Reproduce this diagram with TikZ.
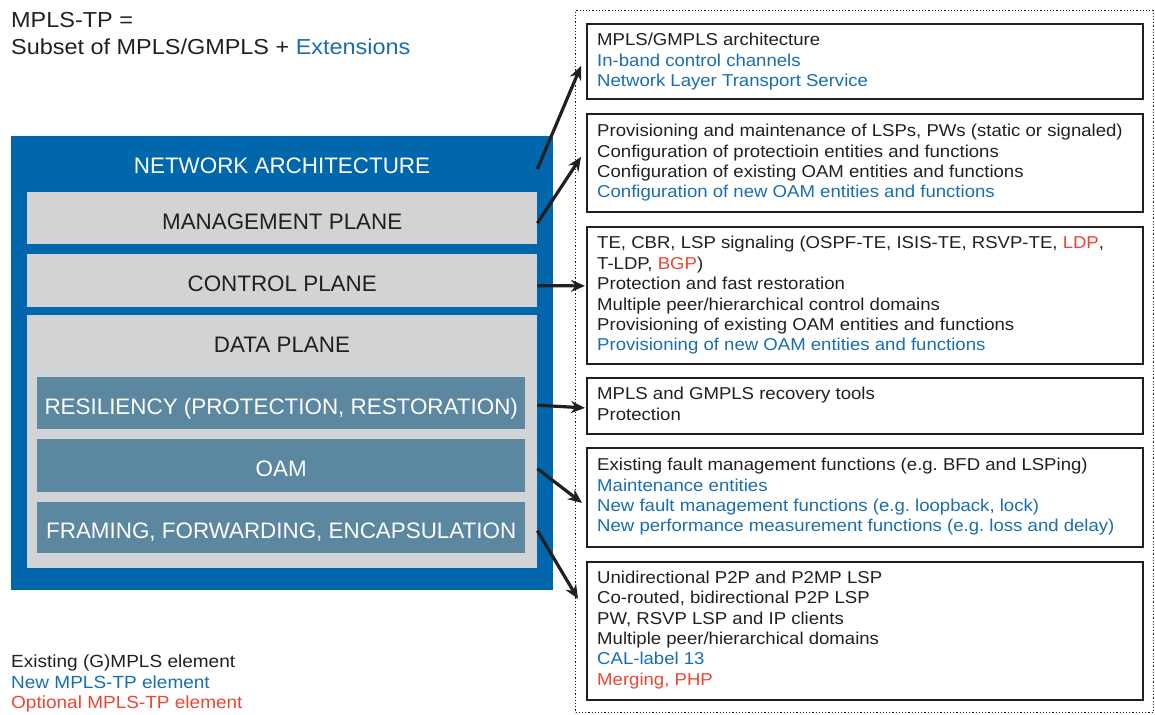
\documentclass[tikz,border=0pt]{standalone}
\usepackage{fontspec}
\setmainfont{Liberation Sans}
\newfontfamily\widefont{Liberation Sans}[FakeStretch=1.08]
\usetikzlibrary{arrows.meta,calc}
\definecolor{archblue}{HTML}{0067AC}
\definecolor{planegray}{HTML}{D1D3D4}
\definecolor{steel}{HTML}{5B87A0}
\definecolor{newblue}{HTML}{1A6DB0}
\definecolor{optred}{HTML}{EE4433}
\definecolor{ink}{HTML}{231F20}
\tikzset{
  archbox/.style={fill=archblue, draw=none, inner sep=0pt, anchor=north west},
  planebox/.style={fill=planegray, draw=none, inner sep=0pt, anchor=north west, minimum width=510pt,
    text=ink, font=\fontsize{22.4}{24}\selectfont, text height=22pt, text depth=0pt},
  subbox/.style={fill=steel, draw=none, inner sep=0pt, anchor=north west, minimum width=488pt,
    text=white, font=\fontsize{22.4}{24}\selectfont, text height=22pt, text depth=0pt},
  biglabel/.style={font=\fontsize{22.4}{24}\selectfont, inner sep=0pt},
  infobox/.style={draw=ink, line width=1.8pt, anchor=north west, minimum width=556pt, inner sep=0pt},
  infotext/.style={anchor=west, inner sep=0pt, align=left, text=ink,
    font=\widefont\fontsize{17.2}{20.4}\selectfont},
  arr/.style={draw=ink, line width=3.2pt, -{Stealth[length=14pt,width=12pt]}},
}
\newcommand{\nb}[1]{\textcolor{newblue}{#1}}
\newcommand{\orr}[1]{\textcolor{optred}{#1}}
\frenchspacing
\begin{document}
\begin{tikzpicture}[x=1pt,y=-1pt]
\useasboundingbox (0,0) rectangle (1155,714);

% title
\node[anchor=north west, inner sep=0pt, align=left, text=ink,
  font=\widefont\fontsize{21.7}{27}\selectfont] (title) at (11,12)
  {MPLS-TP =\\Subset of MPLS/GMPLS + \nb{Extensions}};

% left architecture
\node[archbox, minimum width=542pt, minimum height=454pt] (arch) at (11,136) {};
\node[biglabel, text=white] (archlbl) at (282,166) {NETWORK ARCHITECTURE};
\node[planebox, minimum height=52pt] (mgmt) at (27,192) {MANAGEMENT PLANE};
\node[planebox, minimum height=53pt] (ctrl) at (27,254) {CONTROL PLANE};
\node[planebox, minimum height=253pt] (data) at (27,315) {};
\node[biglabel, text=ink] (datalbl) at (282,345) {DATA PLANE};
\node[subbox, minimum height=52pt] (resil) at (37,377) {RESILIENCY (PROTECTION, RESTORATION)};
\node[subbox, minimum height=53pt] (oam) at (37,439) {OAM};
\node[subbox, minimum height=51pt] (frame) at (37,502) {FRAMING, FORWARDING, ENCAPSULATION};

% right dotted frame
\node[draw=ink, dotted, line width=1.2pt, anchor=north west, minimum width=578pt,
  minimum height=702pt, inner sep=0pt] (frameR) at (575,10) {};

% info boxes
\node[infobox, minimum height=75pt] (b1) at (586,23) {};
\node[infotext] (t1) at ([xshift=11pt,yshift=-0.5pt]b1.west)
  {MPLS/GMPLS architecture\\\nb{In-band control channels}\\\nb{Network Layer Transport Service}};
\node[infobox, minimum height=98pt] (b2) at (586,113) {};
\node[infotext] (t2) at ([xshift=11pt]b2.west)
  {Provisioning and maintenance of LSPs, PWs (static or signaled)\\
   Configuration of protectioin entities and functions\\
   Configuration of existing OAM entities and functions\\
   \nb{Configuration of new OAM entities and functions}};
\node[infobox, minimum height=137pt] (b3) at (586,226) {};
\node[infotext] (t3) at ([xshift=11pt]b3.west)
  {TE, CBR, LSP signaling (OSPF-TE, ISIS-TE, RSVP-TE, \orr{LDP},\\
   T-LDP, \orr{BGP})\\
   Protection and fast restoration\\
   Multiple peer/hierarchical control domains\\
   Provisioning of existing OAM entities and functions\\
   \nb{Provisioning of new OAM entities and functions}};
\node[infobox, minimum height=56pt] (b4) at (586,377) {};
\node[infotext] (t4) at ([xshift=11pt,yshift=2pt]b4.west)
  {MPLS and GMPLS recovery tools\\Protection};
\node[infobox, minimum height=99pt] (b5) at (586,447) {};
\node[infotext] (t5) at ([xshift=11pt,yshift=0.5pt]b5.west)
  {Existing fault management functions (e.g. BFD and LSPing)\\
   \nb{Maintenance entities}\\
   \nb{New fault management functions (e.g. loopback, lock)}\\
   \nb{New performance measurement functions (e.g. loss and delay)}};
\node[infobox, minimum height=138pt] (b6) at (586,561) {};
\node[infotext] (t6) at ([xshift=11pt,yshift=1pt]b6.west)
  {Unidirectional P2P and P2MP LSP\\
   Co-routed, bidirectional P2P LSP\\
   PW, RSVP LSP and IP clients\\
   Multiple peer/hierarchical domains\\
   \nb{CAL-label 13}\\
   \orr{Merging, PHP}};

% legend
\node[anchor=north west, inner sep=0pt, align=left, text=ink,
  font=\widefont\fontsize{17.6}{20.2}\selectfont] (legend) at (11,655)
  {Existing (G)MPLS element\\\nb{New MPLS-TP element}\\\orr{Optional MPLS-TP element}};

% connectors
\draw[arr] ([xshift=-16pt,yshift=-3pt]arch.north east |- archlbl.east) -- ([xshift=-5pt,yshift=-4.5pt]b1.west);
\draw[arr] ([yshift=-5pt]mgmt.east) -- ([xshift=-5pt,yshift=6pt]b2.west);
\draw[arr] ([yshift=-5pt]ctrl.east) -- ([xshift=-1pt,yshift=9.5pt]b3.west);
\draw[arr] ([yshift=-2pt]data.east |- resil.east) -- ([xshift=-1pt,yshift=-2pt]b4.west);
\draw[arr] ([yshift=-3pt]data.east |- oam.east) -- ([xshift=-4pt,yshift=-5.5pt]b5.west);
\draw[arr] ([yshift=-3pt]data.east |- frame.east) -- ([xshift=-8pt,yshift=32pt]b6.west);
\end{tikzpicture}
\end{document}
